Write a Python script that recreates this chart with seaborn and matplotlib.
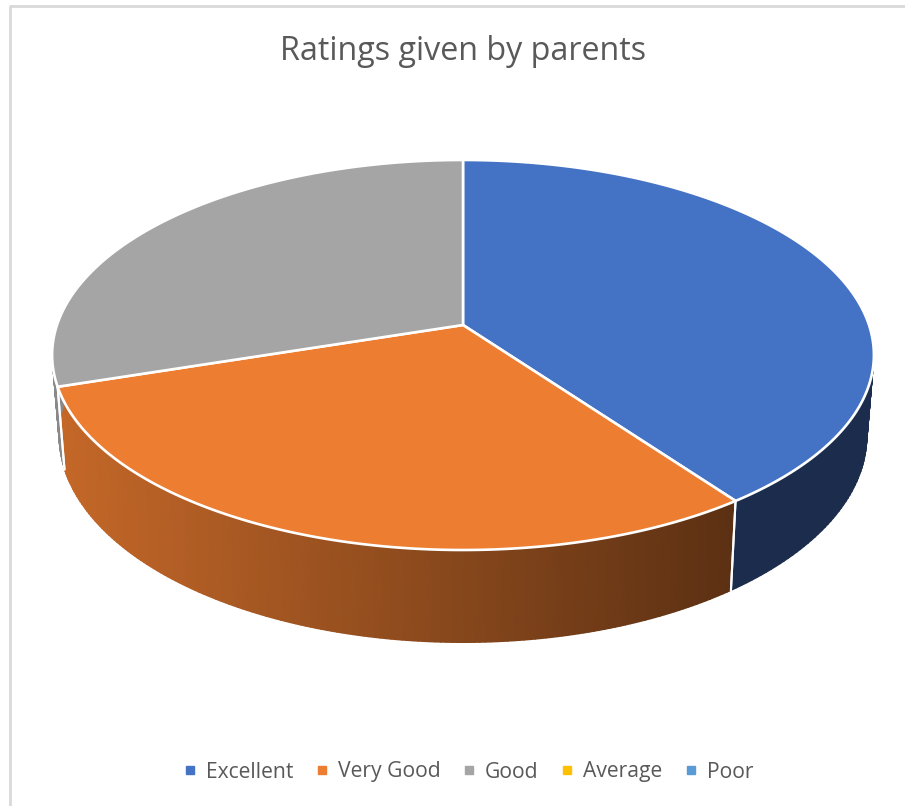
import numpy as np
import matplotlib
matplotlib.use("Agg")
import matplotlib.pyplot as plt
from matplotlib.lines import Line2D
import seaborn as sns

categories = ["Excellent", "Very Good", "Good", "Average", "Poor"]
ratings = [40, 30, 30, 0, 0]
palette = ["#4472C4", "#ED7D31", "#A5A5A5", "#FFC000", "#5B9BD5"]
title = "Ratings given by parents"

# perspective of the tilted disc, everything in image pixels
CX, CY = 463, 325
KX, KY, TILT = 406, 190.4, 0.1538


def project(x, y):
	w = 1 + TILT * np.asarray(y)
	return KX * np.asarray(x) / w, -KY * np.asarray(y) / w


def top_edge(x, y):
	dx, dy = project(x, y)
	return CX + dx, CY + dy


def bottom_edge(x, y):
	# lower rim sits a bit narrower and further down than the top one
	dx, dy = project(x, y)
	return CX + 0.983 * dx, CY + 79 + 1.06 * dy


def shade(px):
	# light from the left, side wall gets darker going right
	return np.clip(0.83 - 0.44 * (px - 60) / 670, 0.39, 0.83)


sns.set_theme(style="white")
plt.rcParams["font.family"] = ["Open Sans", "DejaVu Sans"]

fig = plt.figure(figsize=(9.05, 8.06), dpi=100)
ax = fig.add_axes([0, 0, 1, 1])
wedges, _ = ax.pie(ratings, startangle=90, counterclock=False, colors=palette)

# side walls first, top surface covers whatever is behind it
for wedge, color in zip(wedges, palette):
	if wedge.theta1 == wedge.theta2:
		continue
	wedge.set_visible(False)
	t = np.radians(np.linspace(wedge.theta1, wedge.theta2, 160))
	xt, yt = top_edge(np.cos(t), np.sin(t))
	xb, yb = bottom_edge(np.cos(t), np.sin(t))
	base = np.array(matplotlib.colors.to_rgb(color))
	rgb = base[None, None, :] * np.stack([shade(xt), shade(xb)])[:, :, None]
	ax.pcolormesh(np.stack([xt, xb]), np.stack([yt, yb]), rgb, shading="gouraud", zorder=1)

for wedge in wedges:
	if wedge.theta1 == wedge.theta2:
		continue
	for ang in (wedge.theta1, wedge.theta2):
		a = np.radians(ang)
		x0, y0 = top_edge(np.cos(a), np.sin(a))
		x1, y1 = bottom_edge(np.cos(a), np.sin(a))
		ax.plot([x0, x1], [y0, y1], color="white", lw=1.5, zorder=2)

for wedge, color in zip(wedges, palette):
	if wedge.theta1 == wedge.theta2:
		continue
	t = np.radians(np.linspace(wedge.theta1, wedge.theta2, 200))
	xs, ys = top_edge(np.r_[0, np.cos(t)], np.r_[0, np.sin(t)])
	ax.fill(xs, ys, facecolor=color, edgecolor="white", lw=1.9, joinstyle="round", zorder=3)

ax.set_aspect("auto")
ax.set_xlim(0, 905)
ax.set_ylim(806, 0)
ax.axis("off")

# chart frame, only left and top are inside the crop
ax.plot([10, 10, 905], [806, 6, 6], color="#D9D9D9", lw=2, zorder=0)

ax.text(463, 52, title, ha="center", va="center", fontsize=23.2, color="#595959")

handles = [Line2D([], [], ls="", marker="s", ms=5.5, color=c) for c in palette]
ax.legend(handles, categories, loc="center", bbox_to_anchor=(468.5, 772), bbox_transform=ax.transData,
		ncol=5, frameon=False, fontsize=15.2, labelcolor="#595959", columnspacing=1.05,
		handlelength=0.6, handletextpad=0.45, borderpad=0)

fig.savefig("out.png", dpi=100)
